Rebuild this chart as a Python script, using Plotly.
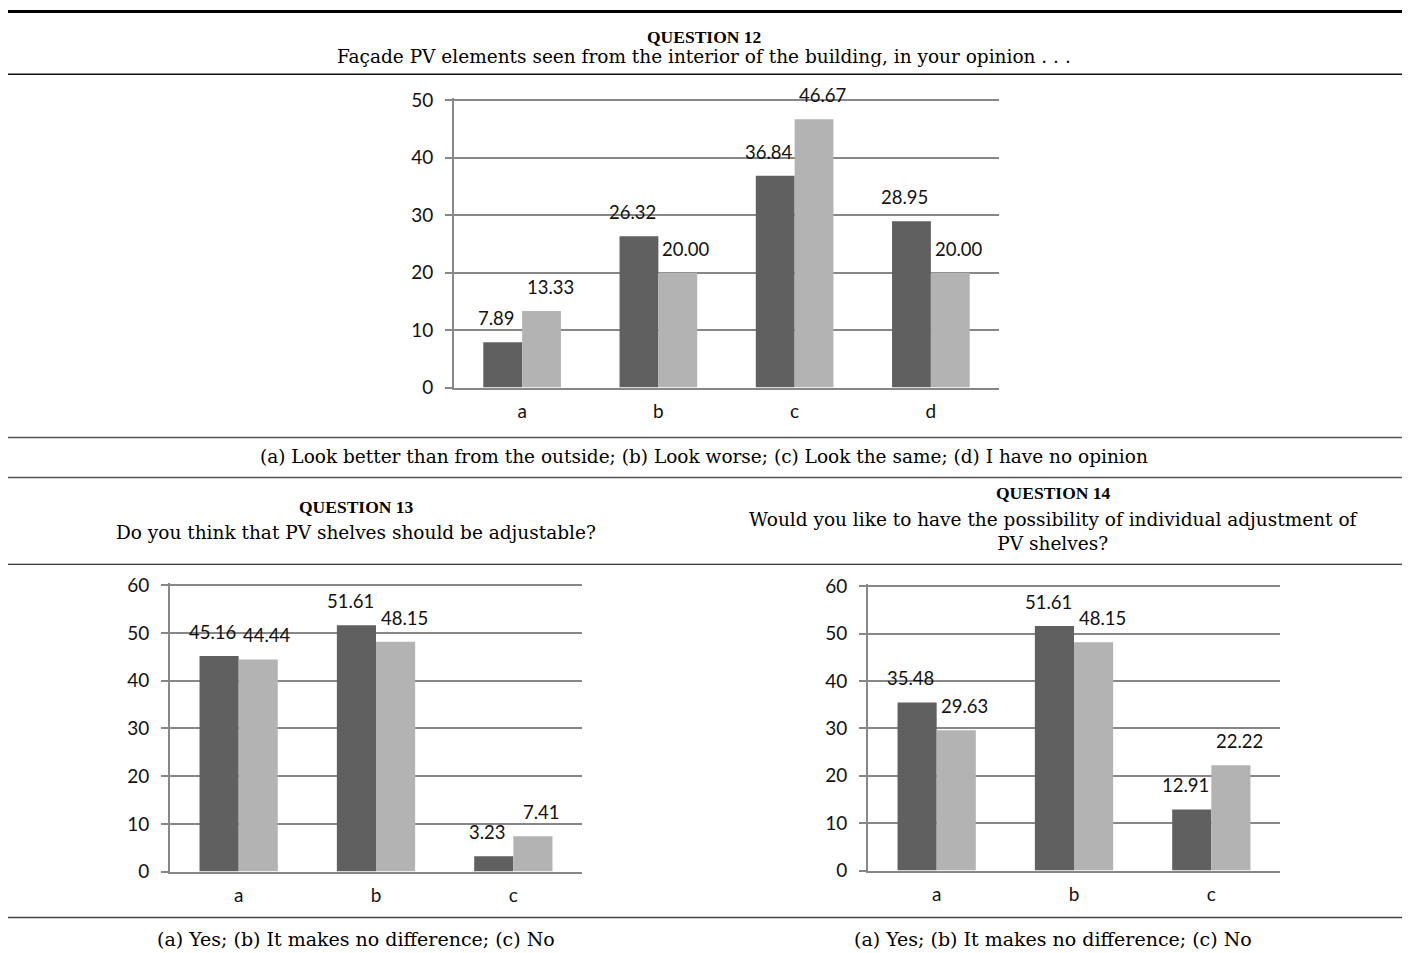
import plotly.graph_objects as go

W, H = 1408, 953

# ---------------- data ----------------
q12_categories = ["a", "b", "c", "d"]
q12_dark = [7.89, 26.32, 36.84, 28.95]
q12_light = [13.33, 20.00, 46.67, 20.00]
q12_yticks = [0, 10, 20, 30, 40, 50]

q13_categories = ["a", "b", "c"]
q13_dark = [45.16, 51.61, 3.23]
q13_light = [44.44, 48.15, 7.41]
q13_yticks = [0, 10, 20, 30, 40, 50, 60]

q14_categories = ["a", "b", "c"]
q14_dark = [35.48, 51.61, 12.91]
q14_light = [29.63, 48.15, 22.22]
q14_yticks = [0, 10, 20, 30, 40, 50, 60]

q12_title = "QUESTION 12"
q12_sub = "Façade PV elements seen from the interior of the building, in your opinion . . ."
q12_caption = "(a) Look better than from the outside; (b) Look worse; (c) Look the same; (d) I have no opinion"
q13_title = "QUESTION 13"
q13_sub = "Do you think that PV shelves should be adjustable?"
q13_caption = "(a) Yes; (b) It makes no difference; (c) No"
q14_title = "QUESTION 14"
q14_sub = "Would you like to have the possibility of individual adjustment of<br>PV shelves?"
q14_caption = "(a) Yes; (b) It makes no difference; (c) No"

# ---------------- style ----------------
DARK = "#606060"
LIGHT = "#b3b3b3"
GRID = "#878787"
SANS = "Lato"
SERIF = "DejaVu Serif"
SERIF_BOLD = "Liberation Serif"


def Y(p):
    # vertical placement correction for the photographed page
    return (p - 8.6) / 0.98


def px_x(p):
    return p / W


def px_y(p):
    return 1 - Y(p) / H


fig = go.Figure()

charts = [
    # categories, dark, light, yticks, suffix, x-domain px, y px (zero, top)
    (q12_categories, q12_dark, q12_light, q12_yticks, "", (454, 999), (387, 99)),
    (q13_categories, q13_dark, q13_light, q13_yticks, "2", (170, 582), (872, 585)),
    (q14_categories, q14_dark, q14_light, q14_yticks, "3", (868, 1280), (871, 586)),
]

EXT = 2  # px of headroom so the top gridline is drawn
annotations = []
for cats, dark, light, yticks, sfx, (x0, x1), (yz, yt) in charts:
    xa = "x" + sfx
    ya = "y" + sfx
    fig.add_trace(go.Bar(x=cats, y=dark, marker=dict(color=DARK, line=dict(width=0)),
                         xaxis=xa, yaxis=ya, showlegend=False, hoverinfo="skip"))
    fig.add_trace(go.Bar(x=cats, y=light, marker=dict(color=LIGHT, line=dict(width=0)),
                         xaxis=xa, yaxis=ya, showlegend=False, hoverinfo="skip"))
    for c, v in zip(cats, dark):
        annotations.append(dict(x=c, y=v, xref=xa, yref=ya, text=f"{v:.2f}", showarrow=False,
                                xshift=-26, yshift=24, font=dict(family=SANS, size=18.5, color="#111")))
    for c, v in zip(cats, light):
        annotations.append(dict(x=c, y=v, xref=xa, yref=ya, text=f"{v:.2f}", showarrow=False,
                                xshift=28, yshift=24, font=dict(family=SANS, size=18.5, color="#111")))
    top = yticks[-1]
    y_zero = Y(yz)
    y_top = Y(yt)
    unit_px = (y_zero - y_top) / top
    xkey = "xaxis" + sfx
    ykey = "yaxis" + sfx
    fig.update_layout(**{
        xkey: dict(domain=[px_x(x0), px_x(x1)], anchor=ya, range=[-0.5, len(cats) - 0.5],
                   showline=True, linecolor=GRID, linewidth=2, ticks="", showgrid=False,
                   zeroline=False, tickfont=dict(family=SANS, size=19, color="#111"),
                   ticklabelstandoff=6, fixedrange=True),
        ykey: dict(domain=[1 - y_zero / H, 1 - (y_top - EXT) / H], anchor=xa,
                   range=[0, top + EXT / unit_px],
                   tickvals=yticks, showgrid=True, gridcolor=GRID, gridwidth=1.6,
                   showline=True, linecolor=GRID, linewidth=2, ticks="outside", ticklen=7,
                   tickcolor=GRID, tickwidth=1.6, zeroline=False,
                   tickfont=dict(family=SANS, size=19, color="#111"),
                   ticklabelstandoff=8, fixedrange=True),
    })


# table text
def text(s, cx, cy, size=18.5, bold=False):
    annotations.append(dict(x=px_x(cx), y=px_y(cy), xref="paper", yref="paper",
                            text=f"<b>{s}</b>" if bold else s, showarrow=False,
                            xanchor="center", yanchor="middle",
                            font=dict(family=SERIF_BOLD if bold else SERIF,
                                      size=17.5 if bold else size, color="#000")))


text(q12_title, 704, 36, bold=True)
text(q12_sub, 704, 55)
text(q12_caption, 704, 456)
text(q13_title, 356, 507, bold=True)
text(q13_sub, 356, 532)
text(q14_title, 1053, 493, bold=True)
text(q14_sub, 1053, 531)
text(q13_caption, 356, 940, size=19)
text(q14_caption, 1053, 940, size=19)

shapes = []
for y, w, col in [(10, 3, "#000"), (73, 1.5, "#111"), (437, 1.5, "#555"),
                  (477, 1.5, "#555"), (564, 1.2, "#000"), (918, 1.5, "#444")]:
    yy = max(px_y(y), 1 - 1.5 / H) if y < 20 else px_y(y)
    shapes.append(dict(type="line", xref="paper", yref="paper", x0=px_x(8), x1=px_x(1402),
                       y0=yy, y1=yy, line=dict(color=col, width=w)))

fig.update_layout(width=W, height=H, margin=dict(l=0, r=0, t=0, b=0),
                  paper_bgcolor="white", plot_bgcolor="white",
                  barmode="group", bargap=0.43, bargroupgap=0,
                  annotations=annotations, shapes=shapes, showlegend=False)

post = ("document.body.style.margin='0';document.body.style.padding='0';"
        "document.documentElement.style.overflow='hidden';"
        "var d=document.getElementById('{plot_id}');"
        "d.style.position='fixed';d.style.left='0px';d.style.top='0px';")

fig.write_html("out.html", post_script=post, config={"displayModeBar": False})
